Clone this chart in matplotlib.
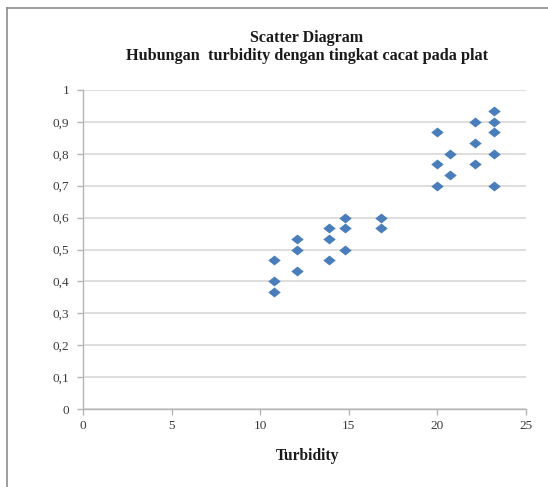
import matplotlib.pyplot as plt
from matplotlib.path import Path
from matplotlib.lines import Line2D

# turbidity vs defect rate
turbidity = [10.8, 10.8, 10.8,
             12.1, 12.1, 12.1,
             13.9, 13.9, 13.9,
             14.8, 14.8, 14.8,
             16.8, 16.8,
             20.0, 20.0, 20.0,
             20.7, 20.7,
             22.1, 22.1, 22.1,
             23.2, 23.2, 23.2, 23.2, 23.2]
cacat = [0.467, 0.400, 0.367,
         0.533, 0.500, 0.433,
         0.567, 0.533, 0.467,
         0.600, 0.567, 0.500,
         0.600, 0.567,
         0.867, 0.767, 0.700,
         0.800, 0.733,
         0.900, 0.833, 0.767,
         0.933, 0.900, 0.867, 0.800, 0.700]

x_ticks = [0, 5, 10, 15, 20, 25]
y_ticks = [0, 0.1, 0.2, 0.3, 0.4, 0.5, 0.6, 0.7, 0.8, 0.9, 1.0]
y_labels = ["0", "0,1", "0,2", "0,3", "0,4", "0,5", "0,6", "0,7", "0,8", "0,9", "1"]

plt.rcParams['font.family'] = ['Liberation Serif', 'DejaVu Serif']

fig = plt.figure(figsize=(5.48, 4.87), dpi=100)

# outer chart frame (only left and top edges are visible)
fig.add_artist(Line2D([7 / 548, 7 / 548], [0, 1 - 8 / 487], color='#8c8c8c', lw=1.2,
                      transform=fig.transFigure))
fig.add_artist(Line2D([7 / 548, 1], [1 - 8 / 487, 1 - 8 / 487], color='#8c8c8c', lw=1.2,
                      transform=fig.transFigure))

ax = fig.add_axes([83 / 548, 1 - 409 / 487, (526 - 83) / 548, (409 - 90) / 487])

diamond = Path([(-1, 0), (0, 0.8), (1, 0), (0, -0.8), (-1, 0)],
               [Path.MOVETO, Path.LINETO, Path.LINETO, Path.LINETO, Path.CLOSEPOLY])
ax.scatter(turbidity, cacat, marker=diamond, s=80, color='#4a7ebb', zorder=3, linewidths=0)

ax.set_xlim(0, 25)
ax.set_ylim(0, 1)
ax.set_xticks(x_ticks)
ax.set_yticks(y_ticks)
ax.set_yticklabels(y_labels)
ax.yaxis.grid(True, color='#d4d4d4', lw=1.1)
ax.set_axisbelow(True)

for s in ['top', 'right']:
    ax.spines[s].set_visible(False)
for s in ['left', 'bottom']:
    ax.spines[s].set_color('#b5b5b5')
    ax.spines[s].set_linewidth(1.0)

ax.tick_params(axis='both', colors='#b5b5b5', labelcolor='#3a3a3a', labelsize=9.5,
               length=4, width=1.0, direction='out')
ax.tick_params(axis='x', pad=4)
ax.tick_params(axis='y', pad=6)

fig.text(307 / 548, 1 - 38 / 487, "Scatter Diagram", ha='center', va='center',
         fontsize=11.5, fontweight='bold', color='#1a1a1a')
fig.text(307.5 / 548, 1 - 55.5 / 487, "Hubungan  turbidity dengan tingkat cacat pada plat",
         ha='center', va='center', fontsize=11.7, fontweight='bold', color='#1a1a1a')
fig.text(307 / 548, 1 - 456 / 487, "Turbidity", ha='center', va='center',
         fontsize=11.2, fontweight='bold', color='#1a1a1a')

fig.savefig("out.png", dpi=100)
